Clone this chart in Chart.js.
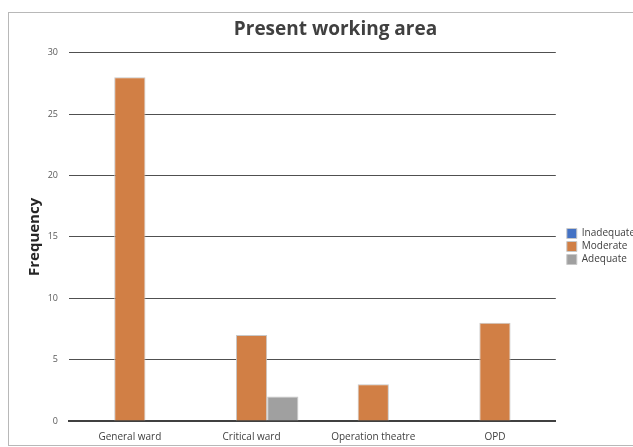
<!DOCTYPE html>
<html>
<head>
<meta charset="utf-8">
<script src="https://cdn.jsdelivr.net/npm/chart.js@4/dist/chart.umd.min.js"></script>
<style>
  html, body { margin: 0; padding: 0; background: #fff; overflow: hidden; }
  #frame { position: absolute; left: 8px; top: 12px; width: 652px; height: 434px;
           border: 1px solid #b8b8b8; box-sizing: border-box; }
</style>
</head>
<body>
<div id="frame"><canvas id="chart"></canvas></div>
<script>
var categories = ['General ward', 'Critical ward', 'Operation theatre', 'OPD'];
var inadequate = [0, 0, 0, 0];
var moderate = [28, 7, 3, 8];
var adequate = [0, 2, 0, 0];
var yTicks = [0, 5, 10, 15, 20, 25, 30];

var ctx = document.getElementById('chart').getContext('2d');

var chart = new Chart(ctx, {
    type: 'bar',
    data: {
        labels: categories,
        datasets: [
            { label: 'Inadequate', data: inadequate, backgroundColor: '#4472C4', borderColor: '#c8c8c8', borderWidth: 1 },
            { label: 'Moderate', data: moderate, backgroundColor: '#D17F45', borderColor: '#c8c8c8', borderWidth: 1 },
            { label: 'Adequate', data: adequate, backgroundColor: '#A0A0A0', borderColor: '#c8c8c8', borderWidth: 1 }
        ]
    },
    options: {
        responsive: true,
        maintainAspectRatio: false,
        animation: false,
        categoryPercentage: 0.77,
        barPercentage: 1.0,
        layout: { padding: { left: 17, right: 14, top: 3, bottom: 0 } },
        plugins: {
            title: {
                display: true,
                text: 'Present working area',
                color: '#404040',
                font: { family: 'Open Sans', size: 19, weight: 'bold' },
                padding: { top: 2, bottom: 12 }
            },
            legend: {
                position: 'right',
                title: { display: true, text: ' ', font: { size: 10 }, padding: { top: 20, bottom: 0 } },
                labels: {
                    boxWidth: 10,
                    boxHeight: 10,
                    padding: 3,
                    color: '#404040',
                    font: { family: 'Open Sans', size: 10 }
                }
            },
            tooltip: { enabled: false }
        },
        scales: {
            x: {
                grid: { display: false },
                border: { color: '#404040', width: 2 },
                ticks: { color: '#404040', font: { family: 'Open Sans', size: 10 }, padding: 2 }
            },
            y: {
                min: 0,
                max: 30,
                afterBuildTicks: function (axis) {
                    axis.ticks = yTicks.map(function (v) { return { value: v }; });
                },
                afterFit: function (axis) { axis.width = 43; },
                grid: { color: '#505050', lineWidth: 1, drawTicks: false },
                border: { display: false },
                ticks: { color: '#595959', font: { family: 'Open Sans', size: 9 }, padding: 11 },
                title: {
                    display: true,
                    text: 'Frequency',
                    color: '#262626',
                    font: { family: 'Open Sans', size: 15, weight: 'bold' },
                    padding: { top: 0, bottom: 0 }
                }
            },
            gap: {
                type: 'linear',
                position: 'right',
                display: true,
                grid: { display: false },
                border: { display: false },
                ticks: { display: false },
                afterFit: function (axis) { axis.width = 8; }
            }
        }
    }
});
</script>
</body>
</html>
